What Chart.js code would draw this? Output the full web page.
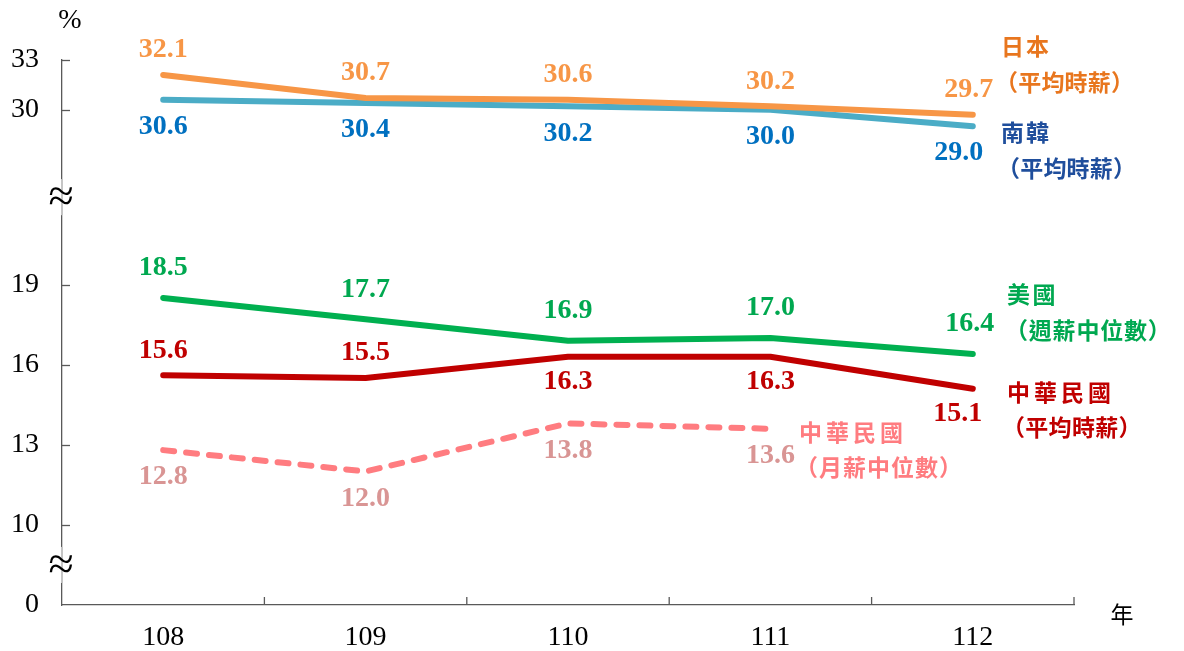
<!DOCTYPE html>
<html lang="zh-Hant">
<head>
<meta charset="UTF-8">
<title>各國時薪比較</title>
<script src="https://cdn.jsdelivr.net/npm/chart.js"></script>
<style>
  html, body { margin: 0; padding: 0; background: #fff; }
  #wrap { width: 1184px; height: 651px; }
</style>
</head>
<body>
<div id="wrap"><canvas id="wageChart" width="1184" height="651"></canvas></div>
<script>
// 資料
const years = ['108', '109', '110', '111', '112'];
const japan = [32.1, 30.7, 30.6, 30.2, 29.7];
const korea = [30.6, 30.4, 30.2, 30.0, 29.0];
const usa = [18.5, 17.7, 16.9, 17.0, 16.4];
const twHourly = [15.6, 15.5, 16.3, 16.3, 15.1];
const twMonthly = [12.8, 12.0, 13.8, 13.6, null];
const yTicks = [0, 10, 13, 16, 19, 30, 33];

// 斷軸：把數值換成軸上位置 (中段 1:1，上段壓縮)
const TOP_BASE = 18.55, TOP_K = 0.62;
function toAxis(v) {
    if (v === null) return null;
    if (v >= 25) return TOP_BASE + (v - 30) * TOP_K;
    if (v >= 5) return v - 7;
    return v * 0.3;
}

const numFont = 'bold 28px "Liberation Serif", "Times New Roman", serif';
const cjkFont = 'bold 23px "Noto Sans CJK TC", sans-serif';

// 每條線的資料標籤位置 (above/below)
const labelPos = [
    { dy: -25, dx: -4, side: ['a', 'a', 'a', 'a', 'a'] },
    { dy: 27, dx: -14, side: ['b', 'b', 'b', 'b', 'b'] },
    { dy: -30, dx: -3, side: ['a', 'a', 'a', 'a', 'a'] },
    { dy: 25, dx: -15, side: ['a', 'a', 'b', 'b', 'b'] },
    { dy: 27, dx: -3, side: ['b', 'b', 'b', 'b', 'b'] }
];

const notes = [
    { text: '日本', x: 1001, y: 46, adv: 25, color: '#E8761E' },
    { text: '（平均時薪）', x: 995, y: 82, adv: 23.2, color: '#E8761E' },
    { text: '南韓', x: 1001, y: 132, adv: 25, color: '#1F4E9C' },
    { text: '（平均時薪）', x: 997, y: 168, adv: 23.2, color: '#1F4E9C' },
    { text: '美國', x: 1007, y: 294, adv: 25.5, color: '#00A850' },
    { text: '（週薪中位數）', x: 1005, y: 330, adv: 23.8, color: '#00A850' },
    { text: '中華民國', x: 1007, y: 392, adv: 27, color: '#C00000' },
    { text: '（平均時薪）', x: 1002, y: 427, adv: 23.3, color: '#C00000' },
    { text: '中華民國', x: 799, y: 432, adv: 27, color: '#FF7C80' },
    { text: '（月薪中位數）', x: 795, y: 467, adv: 24, color: '#FF7C80' }
];

const overlay = {
    id: 'overlay',
    afterDatasetsDraw(chart) {
        const ctx = chart.ctx;
        const xs = chart.scales.x, ys = chart.scales.y;
        const area = chart.chartArea;
        ctx.save();

        // 內側刻度
        ctx.strokeStyle = '#595959';
        ctx.lineWidth = 1.3;
        yTicks.forEach(v => {
            if (v === 0) return;
            const y = Math.round(ys.getPixelForValue(toAxis(v))) + 0.5;
            ctx.beginPath(); ctx.moveTo(area.left, y); ctx.lineTo(area.left + 8, y); ctx.stroke();
        });
        for (let i = 0; i < years.length; i++) {
            const x = i < years.length - 1
                ? (xs.getPixelForValue(i) + xs.getPixelForValue(i + 1)) / 2
                : area.right;
            ctx.beginPath(); ctx.moveTo(x, area.bottom); ctx.lineTo(x, area.bottom - 8); ctx.stroke();
        }

        // 斷軸符號
        const breaks = [
            (ys.getPixelForValue(toAxis(19)) + ys.getPixelForValue(toAxis(30))) / 2,
            (ys.getPixelForValue(toAxis(0)) + ys.getPixelForValue(toAxis(10))) / 2
        ];
        breaks.forEach(by => {
            ctx.fillStyle = '#fff';
            ctx.fillRect(area.left - 3, by - 18, 6, 36);
            ctx.strokeStyle = '#a6a6a6';
            ctx.beginPath(); ctx.moveTo(area.left, by - 18); ctx.lineTo(area.left, by + 18); ctx.stroke();
            ctx.fillStyle = '#000';
            ctx.font = '46px "Liberation Serif", serif';
            ctx.textAlign = 'center';
            ctx.textBaseline = 'middle';
            ctx.fillText('≈', area.left - 1, by + 2);
        });

        // 資料標籤
        ctx.font = numFont;
        ctx.textAlign = 'center';
        ctx.textBaseline = 'middle';
        chart.data.datasets.forEach((ds, di) => {
            const meta = chart.getDatasetMeta(di);
            const lp = labelPos[di];
            ds.raw.forEach((v, i) => {
                if (v === null) return;
                const p = meta.data[i];
                const off = lp.side[i] === 'a' ? -Math.abs(lp.dy) : Math.abs(lp.dy);
                const dx = i === ds.raw.length - 1 ? lp.dx : 0;
                ctx.fillStyle = ds.labelColor;
                ctx.fillText(v.toFixed(1), p.x + dx, p.y + off);
            });
        });

        // 圖例文字
        ctx.font = cjkFont;
        ctx.textAlign = 'left';
        notes.forEach(n => {
            ctx.fillStyle = n.color;
            Array.from(n.text).forEach((ch, i) => ctx.fillText(ch, n.x + i * n.adv, n.y));
        });

        // 單位
        ctx.fillStyle = '#000';
        ctx.textAlign = 'center';
        ctx.font = '28px "Liberation Serif", serif';
        ctx.fillText('%', 70, 21);
        ctx.font = '23px "Noto Sans CJK TC", sans-serif';
        ctx.fillText('年', 1122, 614);
        ctx.restore();
    }
};

function line(label, values, color, labelColor, extra) {
    return Object.assign({
        label: label,
        data: values.map(toAxis),
        raw: values,
        labelColor: labelColor,
        borderColor: color,
        borderWidth: 6,
        borderCapStyle: 'round',
        borderJoinStyle: 'round',
        pointRadius: 0,
        tension: 0,
        fill: false,
        clip: false
    }, extra || {});
}

new Chart(document.getElementById('wageChart'), {
    type: 'line',
    data: {
        labels: years,
        datasets: [
            line('日本', japan, '#F79646', '#F79646'),
            line('南韓', korea, '#4BACC6', '#0070C0'),
            line('美國', usa, '#00B050', '#00A850'),
            line('中華民國(平均時薪)', twHourly, '#C00000', '#C00000'),
            line('中華民國(月薪中位數)', twMonthly, '#FF7C80', '#D99594', { borderDash: [11, 12] })
        ]
    },
    options: {
        responsive: false,
        animation: false,
        layout: { padding: { left: 0, right: 110, top: 60, bottom: 0 } },
        plugins: { legend: { display: false }, tooltip: { enabled: false } },
        scales: {
            x: {
                offset: true,
                grid: { display: false },
                border: { display: true, color: '#595959', width: 1.3 },
                ticks: {
                    color: '#000', padding: 8, maxRotation: 0, autoSkip: false,
                    font: { family: '"Liberation Serif", serif', size: 28 }
                },
                afterFit: s => { s.height = 46; }
            },
            y: {
                min: 0,
                max: toAxis(33),
                grid: { display: false },
                border: { display: true, color: '#595959', width: 1.3 },
                afterBuildTicks: s => { s.ticks = yTicks.map(v => ({ value: toAxis(v) })); },
                ticks: {
                    color: '#000', padding: 15,
                    font: { family: '"Liberation Serif", serif', size: 28 },
                    callback: (val, i) => String(yTicks[i])
                },
                afterFit: s => { s.width = 62; }
            }
        }
    },
    plugins: [overlay]
});
</script>
</body>
</html>
